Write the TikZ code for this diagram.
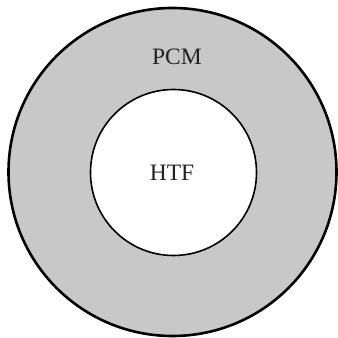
\documentclass[tikz,border=0pt]{standalone}
\usepackage{fontspec}
\setmainfont{Liberation Serif}
\definecolor{pcmgray}{HTML}{C8C8C8}
\definecolor{txt}{HTML}{222222}
\begin{document}
\begin{tikzpicture}[x=1pt,y=1pt,
  lbl/.style={font=\fontsize{23.5}{26}\selectfont, text=txt, inner sep=0pt}]
\useasboundingbox (0,0) rectangle (338,338);
\node[circle, draw=black, line width=2.6pt, fill=pcmgray, minimum size=328pt, inner sep=0pt] (outer) at (172.5,166) {};
\node[circle, draw=black, line width=1.6pt, fill=white, minimum size=166pt, inner sep=0pt] (inner) at (173.5,165.5) {};
\node[lbl] (pcm) at (177,281) {PCM};
\node[lbl] (htf) at (172,165) {HTF};
\end{tikzpicture}
\end{document}
